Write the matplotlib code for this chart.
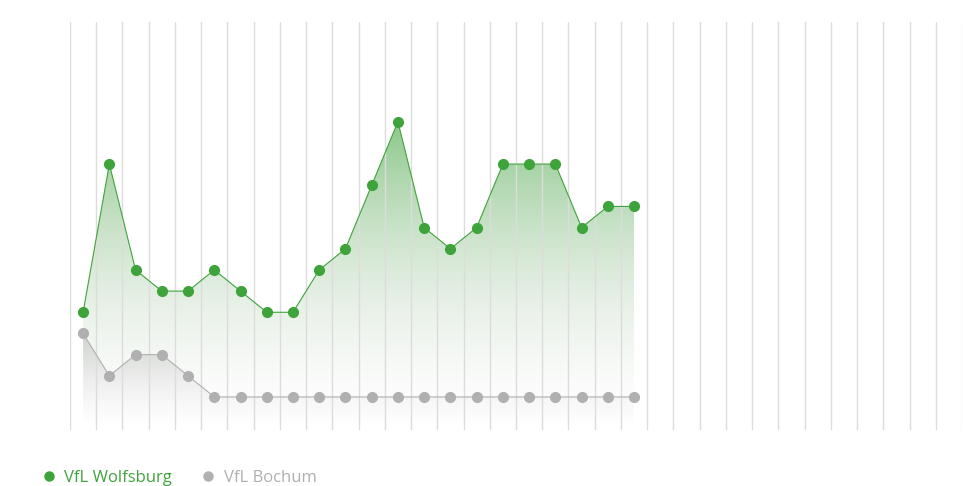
import numpy as np
import matplotlib
matplotlib.use("Agg")
import matplotlib.pyplot as plt
from matplotlib.lines import Line2D
from matplotlib.colors import to_rgb

# league position per matchday (1 = top)
matchdays = list(range(1, 23))
wolfsburg = [14, 7, 12, 13, 13, 12, 13, 14, 14, 12, 11, 8, 5, 10, 11, 10, 7, 7, 7, 10, 9, 9]
bochum = [15, 17, 16, 16, 17, 18, 18, 18, 18, 18, 18, 18, 18, 18, 18, 18, 18, 18, 18, 18, 18, 18]
team_names = ["VfL Wolfsburg", "VfL Bochum"]
n_matchdays = 34

GREEN = "#3fa33b"
GRAY = "#b0b0b0"
YBOTTOM = 19.56
YTOP = 0.29


def gradient_fill(ax, x, y, color, end_color, a_top, y_fade):
    poly = ax.fill_between(x, y, YBOTTOM, facecolor="none", edgecolor="none")
    ytop = min(y)
    c0 = np.array(to_rgb(color))
    c1 = np.array(to_rgb(end_color))
    h = 300
    t = np.linspace(0, 1, h)
    img = np.zeros((h, 1, 4))
    img[:, 0, :3] = c0 * (1 - t[:, None]) + c1 * t[:, None]
    # fade out completely a bit above the bottom edge
    frac = (YBOTTOM - ytop) / (y_fade - ytop)
    img[:, 0, 3] = np.clip(a_top * (1 - t * frac), 0, 1)
    im = ax.imshow(img, aspect="auto", origin="upper",
                   extent=[min(x), max(x), YBOTTOM, ytop], zorder=1,
                   interpolation="bilinear")
    im.set_clip_path(poly.get_paths()[0], transform=ax.transData)


fig = plt.figure(figsize=(9.63, 4.86), dpi=100)
ax = fig.add_axes([70 / 963, 56 / 486, 892 / 963, 408 / 486])

for k in range(n_matchdays + 1):
    ax.axvline(k + 0.5, color="#dcdcdc", lw=1.0, zorder=2)

gradient_fill(ax, matchdays, wolfsburg, GREEN, "#d8d8d8", 0.6, 19.3)
gradient_fill(ax, matchdays, bochum, "#909090", "#d0d0d0", 0.35, 19.3)

ax.plot(matchdays, wolfsburg, color=GREEN, lw=0.8, marker="o", ms=7,
        mec=GREEN, mfc=GREEN, zorder=4)
ax.plot(matchdays, bochum, color=GRAY, lw=0.8, marker="o", ms=7,
        mec=GRAY, mfc=GRAY, zorder=3)

ax.set_xlim(0.5, n_matchdays + 0.5)
ax.set_ylim(YBOTTOM, YTOP)
ax.axis("off")

handles = [Line2D([], [], ls="none", marker="o", ms=6.5, color=GREEN),
           Line2D([], [], ls="none", marker="o", ms=6.5, color=GRAY)]
fig.legend(handles, team_names, loc="center left",
           bbox_to_anchor=(27 / 963, 1 - 478 / 486), ncol=2, frameon=False,
           handlelength=0.8, handletextpad=0.55, columnspacing=1.75,
           labelcolor=[GREEN, GRAY],
           prop={"family": "Open Sans", "size": 12})

fig.savefig("out.png", dpi=100)
